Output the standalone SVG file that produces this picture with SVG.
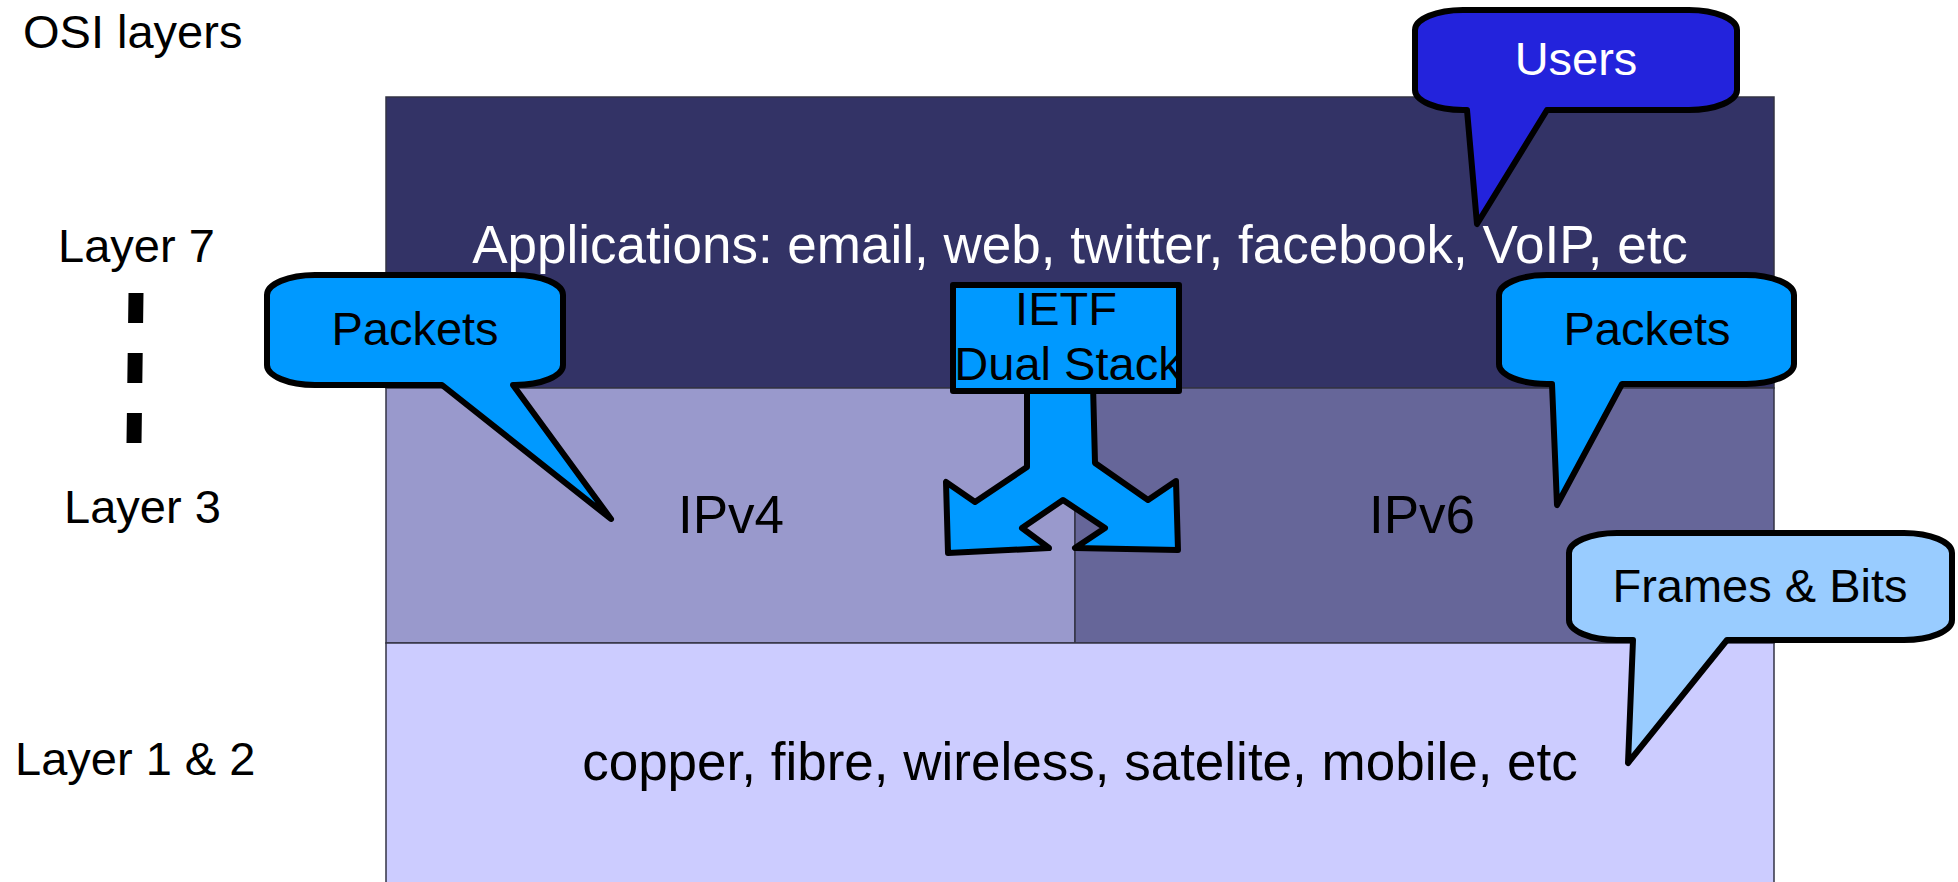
<svg xmlns="http://www.w3.org/2000/svg" width="1958" height="882" viewBox="0 0 1958 882">
<style>
text{font-family:"Liberation Sans",Arial,sans-serif;}
.lbl{font-size:47px;fill:#000;}
.main{font-size:53px;text-anchor:middle;}
.bub{font-size:47px;text-anchor:middle;fill:#000;}
.band{stroke:#333344;stroke-width:1.5;}
.callout{stroke:#000;stroke-width:6;stroke-linejoin:round;}
</style>
<rect width="1958" height="882" fill="#ffffff"/>
<g id="layer7">
<rect class="band" x="386" y="97" width="1388" height="291" fill="#333366"/>
<text class="main" x="1080" y="263" fill="#ffffff">Applications: email, web, twitter, facebook, VoIP, etc</text>
</g>
<g id="ipv4">
<rect class="band" x="386" y="388" width="689" height="255" fill="#9999cc"/>
<text class="main" x="731" y="533" fill="#000">IPv4</text>
</g>
<g id="ipv6">
<rect class="band" x="1075" y="388" width="699" height="255" fill="#666699"/>
<text class="main" x="1422" y="533" fill="#000">IPv6</text>
</g>
<g id="layer12">
<rect class="band" x="386" y="643" width="1388" height="250" fill="#ccccff"/>
<text class="main" x="1080" y="780" fill="#000">copper, fibre, wireless, satelite, mobile, etc</text>
</g>
<g id="labels">
<text class="lbl" x="23" y="48">OSI layers</text>
<text class="lbl" x="58" y="262">Layer 7</text>
<text class="lbl" x="64" y="523">Layer 3</text>
<text class="lbl" x="15" y="775">Layer 1 &amp; 2</text>
</g>
<g id="connectors">
<line x1="136" y1="293" x2="134" y2="443" stroke="#000" stroke-width="15" stroke-dasharray="30 30"/>
</g>
<g id="users">
<path class="callout" fill="#2323dc" d="M1463,10 H1689 A48,20 0 0 1 1737,30 V90 A48,20 0 0 1 1689,110 H1547 L1477,224 L1467,110 H1463 A48,20 0 0 1 1415,90 V30 A48,20 0 0 1 1463,10 Z"/>
<text class="bub" x="1576" y="75" fill="#ffffff" style="fill:#ffffff">Users</text>
</g>
<g id="packets-left">
<path class="callout" fill="#0099ff" d="M315,275 H515 A48,20 0 0 1 563,295 V365 A48,20 0 0 1 515,385 H513 L611,519 L442,385 H315 A48,20 0 0 1 267,365 V295 A48,20 0 0 1 315,275 Z"/>
<text class="bub" x="415" y="345">Packets</text>
</g>
<g id="packets-right">
<path class="callout" fill="#0099ff" d="M1547,275 H1746 A48,20 0 0 1 1794,295 V364 A48,20 0 0 1 1746,384 H1622 L1557,505 L1552,384 H1547 A48,20 0 0 1 1499,364 V295 A48,20 0 0 1 1547,275 Z"/>
<text class="bub" x="1647" y="345">Packets</text>
</g>
<g id="frames">
<path class="callout" fill="#99ccff" d="M1617,533 H1904 A48,20 0 0 1 1952,553 V620 A48,20 0 0 1 1904,640 H1727 L1628,763 L1633,640 H1617 A48,20 0 0 1 1569,620 V553 A48,20 0 0 1 1617,533 Z"/>
<text class="bub" x="1760" y="602">Frames &amp; Bits</text>
</g>
<g id="dualstack">
<polygon class="callout" fill="#0099ff" points="1027,385 1027,467 975,502 946,482 948,553 1049,548 1022,528 1063,500 1105,528 1075,548 1178,550 1176,481 1148,500 1095,463 1093,385"/>
<rect x="953" y="285" width="226" height="106" fill="#0099ff"/>
<text class="bub" x="1066" y="325">IETF</text>
<text class="bub" x="1068" y="380">Dual Stack</text>
<rect x="953" y="285" width="226" height="106" fill="none" stroke="#000" stroke-width="6" stroke-linejoin="round"/>
</g>
</svg>
